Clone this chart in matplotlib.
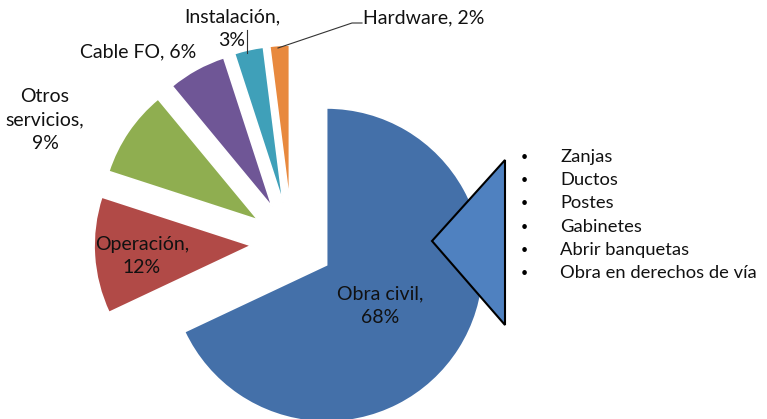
import numpy as np
import matplotlib.pyplot as plt
from matplotlib.patches import Polygon

plt.rcParams['font.family'] = ['Lato', 'DejaVu Sans']

categorias = ['Obra civil', 'Operación', 'Otros servicios', 'Cable FO', 'Instalación', 'Hardware']
porcentajes = [68, 12, 9, 6, 3, 2]
colores = ['#4470A9', '#B14A47', '#8FAE50', '#6F5696', '#3FA0B9', '#E8893E']
partidas_obra = ['Zanjas', 'Ductos', 'Postes', 'Gabinetes', 'Abrir banquetas',
                 'Obra en derechos de vía']

W, H = 767, 419
fig = plt.figure(figsize=(W / 100, H / 100), dpi=100)
ax = fig.add_axes([0, 0, 1, 1])

radio = 157
centro = (292, H - 243)
ax.pie(porcentajes, explode=[41] * len(porcentajes), startangle=90, counterclock=False,
       colors=colores, radius=radio, center=centro,
       wedgeprops=dict(edgecolor='white', linewidth=1.2))

ax.set_xlim(0, W)
ax.set_ylim(0, H)
ax.set_aspect('equal')
ax.axis('off')


def px(x, y):
    return x, H - y


fs = 14
ls = 1.45
ax.text(*px(380, 306), 'Obra civil,\n68%', ha='center', va='center', fontsize=fs,
        color='#111111', linespacing=ls)
ax.text(*px(142, 256), 'Operación,\n12%', ha='center', va='center', fontsize=fs,
        color='#111111', linespacing=ls)
ax.text(*px(45, 120), 'Otros\nservicios,\n9%', ha='center', va='center', fontsize=fs,
        color='#111111', linespacing=ls)
ax.text(*px(138, 52), 'Cable FO, 6%', ha='center', va='center', fontsize=fs,
        color='#111111')
ax.text(*px(232, 29), 'Instalación,\n3%', ha='center', va='center', fontsize=fs,
        color='#111111', linespacing=ls)
ax.text(*px(363, 18), 'Hardware, 2%', ha='left', va='center', fontsize=fs,
        color='#111111')

# lineas guia
ax.plot(*zip(px(247, 30), px(247, 53)), color='#333333', lw=0.8)
ax.plot(*zip(px(362, 23), px(352, 23), px(278, 48)), color='#333333', lw=0.8)

# triangulo de llamada
tri = Polygon([px(505, 160), px(505, 325), px(432, 241)], closed=True,
              facecolor='#4F81C0', edgecolor='black', lw=1.5, zorder=5)
ax.add_patch(tri)

for i, p in enumerate(partidas_obra):
    y = 157 + i * 23.2
    ax.text(*px(524, y), '•', ha='center', va='center', fontsize=9, color='black')
    ax.text(*px(560, y), p, ha='left', va='center', fontsize=13.2, color='#111111')

fig.savefig('out.png', dpi=100)
